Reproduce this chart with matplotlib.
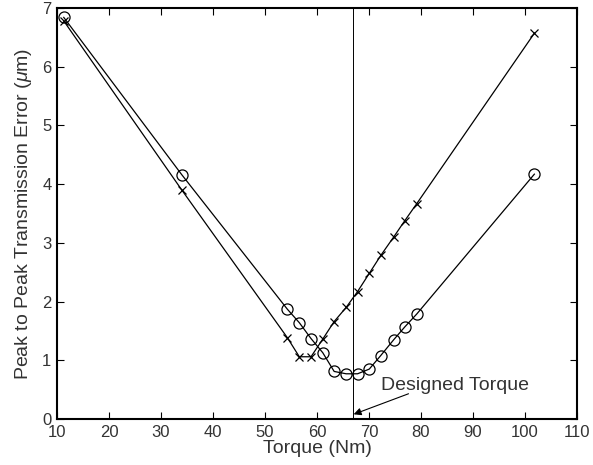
import matplotlib
matplotlib.use("Agg")
import matplotlib.pyplot as plt

plt.rcParams['font.family'] = ['Liberation Sans', 'DejaVu Sans']
plt.rcParams['mathtext.fontset'] = 'custom'
plt.rcParams['mathtext.it'] = 'Liberation Sans:italic'

# torque sweep, circle series
torque_o = [11.3, 34.0, 54.3, 56.6, 58.85, 61.1, 63.3, 65.6, 67.8, 70.05, 72.25, 74.75, 76.9, 79.2, 101.8]
pte_o = [6.84, 4.16, 1.87, 1.64, 1.37, 1.13, 0.81, 0.77, 0.77, 0.85, 1.08, 1.35, 1.57, 1.79, 4.17]

# torque sweep, cross series
torque_x = [11.3, 34.0, 54.3, 56.6, 58.85, 61.1, 63.3, 65.6, 67.8, 70.05, 72.3, 74.75, 76.9, 79.2, 101.8]
pte_x = [6.78, 3.90, 1.385, 1.06, 1.06, 1.36, 1.66, 1.90, 2.17, 2.48, 2.79, 3.10, 3.38, 3.67, 6.57]

design_torque = 66.9

fig = plt.figure(figsize=(5.93, 4.65), dpi=100)
ax = fig.add_axes([57 / 593, 1 - 419 / 465, 520 / 593, 411 / 465])

ax.plot(torque_o, pte_o, '-', color='k', lw=0.9, marker='o', ms=8,
        mfc='none', mec='k', mew=0.9)
ax.plot(torque_x, pte_x, '-', color='k', lw=0.9, marker='x', ms=6,
        mec='k', mew=0.9)
ax.axvline(design_torque, color='k', lw=0.7)

# label plus arrow pointing at the design torque line
ax.text(72.3, 0.57, 'Designed Torque', fontsize=14, va='center', color='#333333')
ax.annotate('', xy=(design_torque + 0.15, 0.08), xytext=(77.6, 0.43),
            arrowprops=dict(arrowstyle='-|>', color='k', lw=0.8,
                            shrinkA=0, shrinkB=0, mutation_scale=11))

ax.set_xlim(10, 110)
ax.set_ylim(0, 7)
ax.set_xticks(range(10, 111, 10))
ax.set_yticks(range(0, 8))
ax.tick_params(direction='in', top=True, right=True, length=5, width=0.8,
               labelsize=12, labelcolor='#333333', pad=4)
for s in ax.spines.values():
    s.set_linewidth(1.5)

ax.set_xlabel('Torque (Nm)', fontsize=14, color='#333333', labelpad=0)
ax.set_ylabel(r'Peak to Peak Transmission Error ($\mu$m)', fontsize=14,
              color='#333333', labelpad=6)

fig.savefig('out.png', dpi=100)
